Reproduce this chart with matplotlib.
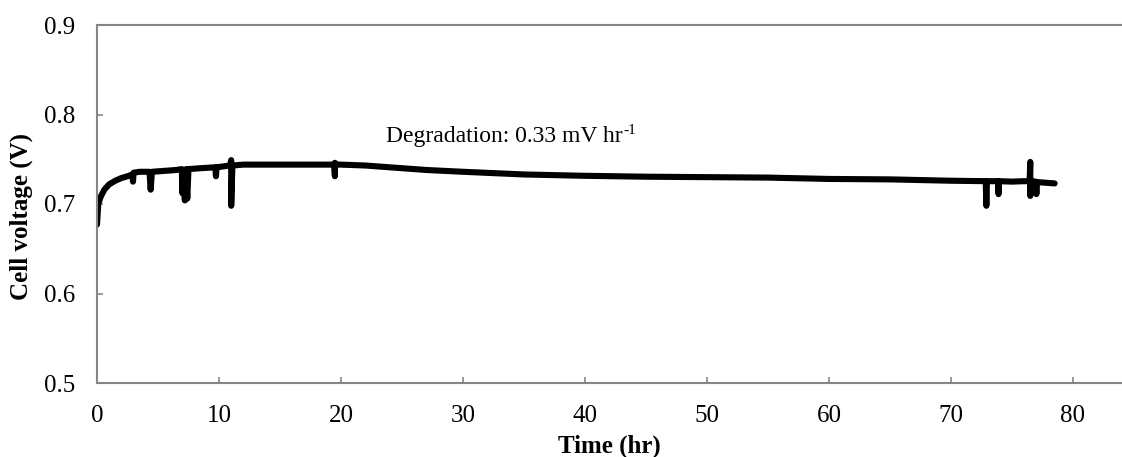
import matplotlib
matplotlib.use("Agg")
import matplotlib.pyplot as plt

# Cell voltage trace during the durability run (time in hours, voltage in V)
time_hr = [0.0, 0.1, 0.3, 0.6, 1.0, 1.5, 2.0, 2.5, 2.9, 2.95, 3.0, 3.5,
           4.3, 4.4, 4.5, 5.5, 6.5, 6.95, 7.0, 7.1, 7.2, 7.3, 7.4, 7.5,
           8.5, 9.7, 9.75, 9.8, 10.9, 11.0, 11.0, 11.1, 12.0, 14.0, 17.0,
           19.45, 19.5, 19.5, 19.55, 20.0, 22.0, 24.0, 27.0, 30.0, 35.0,
           40.0, 45.0, 50.0, 55.0, 60.0, 65.0, 70.0, 72.85, 72.9, 72.95,
           73.85, 73.9, 73.95, 75.0, 76.0, 76.45, 76.5, 76.5, 76.55, 76.95,
           77.0, 77.05, 78.5]
voltage_v = [0.677, 0.700, 0.708, 0.716, 0.722, 0.726, 0.729, 0.731, 0.733, 0.725, 0.735, 0.736,
             0.736, 0.716, 0.736, 0.737, 0.738, 0.739, 0.712, 0.738, 0.704, 0.739, 0.706, 0.739,
             0.740, 0.741, 0.731, 0.741, 0.743, 0.749, 0.698, 0.743, 0.744, 0.744, 0.744,
             0.744, 0.731, 0.746, 0.744, 0.744, 0.743, 0.741, 0.738, 0.736, 0.733,
             0.7315, 0.7305, 0.730, 0.7295, 0.728, 0.7275, 0.726, 0.7255, 0.698, 0.7255,
             0.7255, 0.711, 0.7255, 0.725, 0.7255, 0.7255, 0.747, 0.709, 0.7255, 0.725,
             0.711, 0.7245, 0.723]

x_ticks = [0, 10, 20, 30, 40, 50, 60, 70, 80]
y_ticks = [0.5, 0.6, 0.7, 0.8, 0.9]
annotation = "Degradation: 0.33 mV hr"
annotation_sup = "-1"

plt.rcParams["font.family"] = ["Liberation Serif", "DejaVu Serif"]

fig = plt.figure(figsize=(11.22, 4.57), dpi=100)
ax = fig.add_axes([97 / 1122, 74 / 457, 1 - 97 / 1122, 358 / 457])

ax.plot(time_hr, voltage_v, color="black", lw=4.4, solid_joinstyle="round",
        solid_capstyle="round")

ax.set_xlim(0, 84.02)
ax.set_ylim(0.5, 0.9)
ax.set_xticks(x_ticks)
ax.set_yticks(y_ticks)
ax.set_yticklabels([f"{v:.1f}" for v in y_ticks])

spine_color = "#868686"
for side in ("left", "bottom", "top"):
    ax.spines[side].set_color(spine_color)
    ax.spines[side].set_linewidth(1.5)
ax.spines["right"].set_visible(False)

ax.tick_params(axis="both", direction="in", length=4, width=1.2,
               color=spine_color, labelsize=18, labelcolor="black")
ax.tick_params(axis="x", pad=16)
ax.tick_params(axis="y", pad=16)

ax.set_xlabel("Time (hr)", fontsize=18, fontweight="bold", labelpad=5)
ax.set_ylabel("Cell voltage (V)", fontsize=18, fontweight="bold")
ax.yaxis.set_label_coords(-0.0624, 0.465)

main = ax.text(23.7, 0.7696, annotation, fontsize=17, ha="left", va="baseline")
ax.annotate(annotation_sup, xy=(1, 1), xycoords=main, xytext=(0.5, 1),
            textcoords="offset points", fontsize=11, ha="left", va="top")

fig.savefig("out.png", dpi=100)
